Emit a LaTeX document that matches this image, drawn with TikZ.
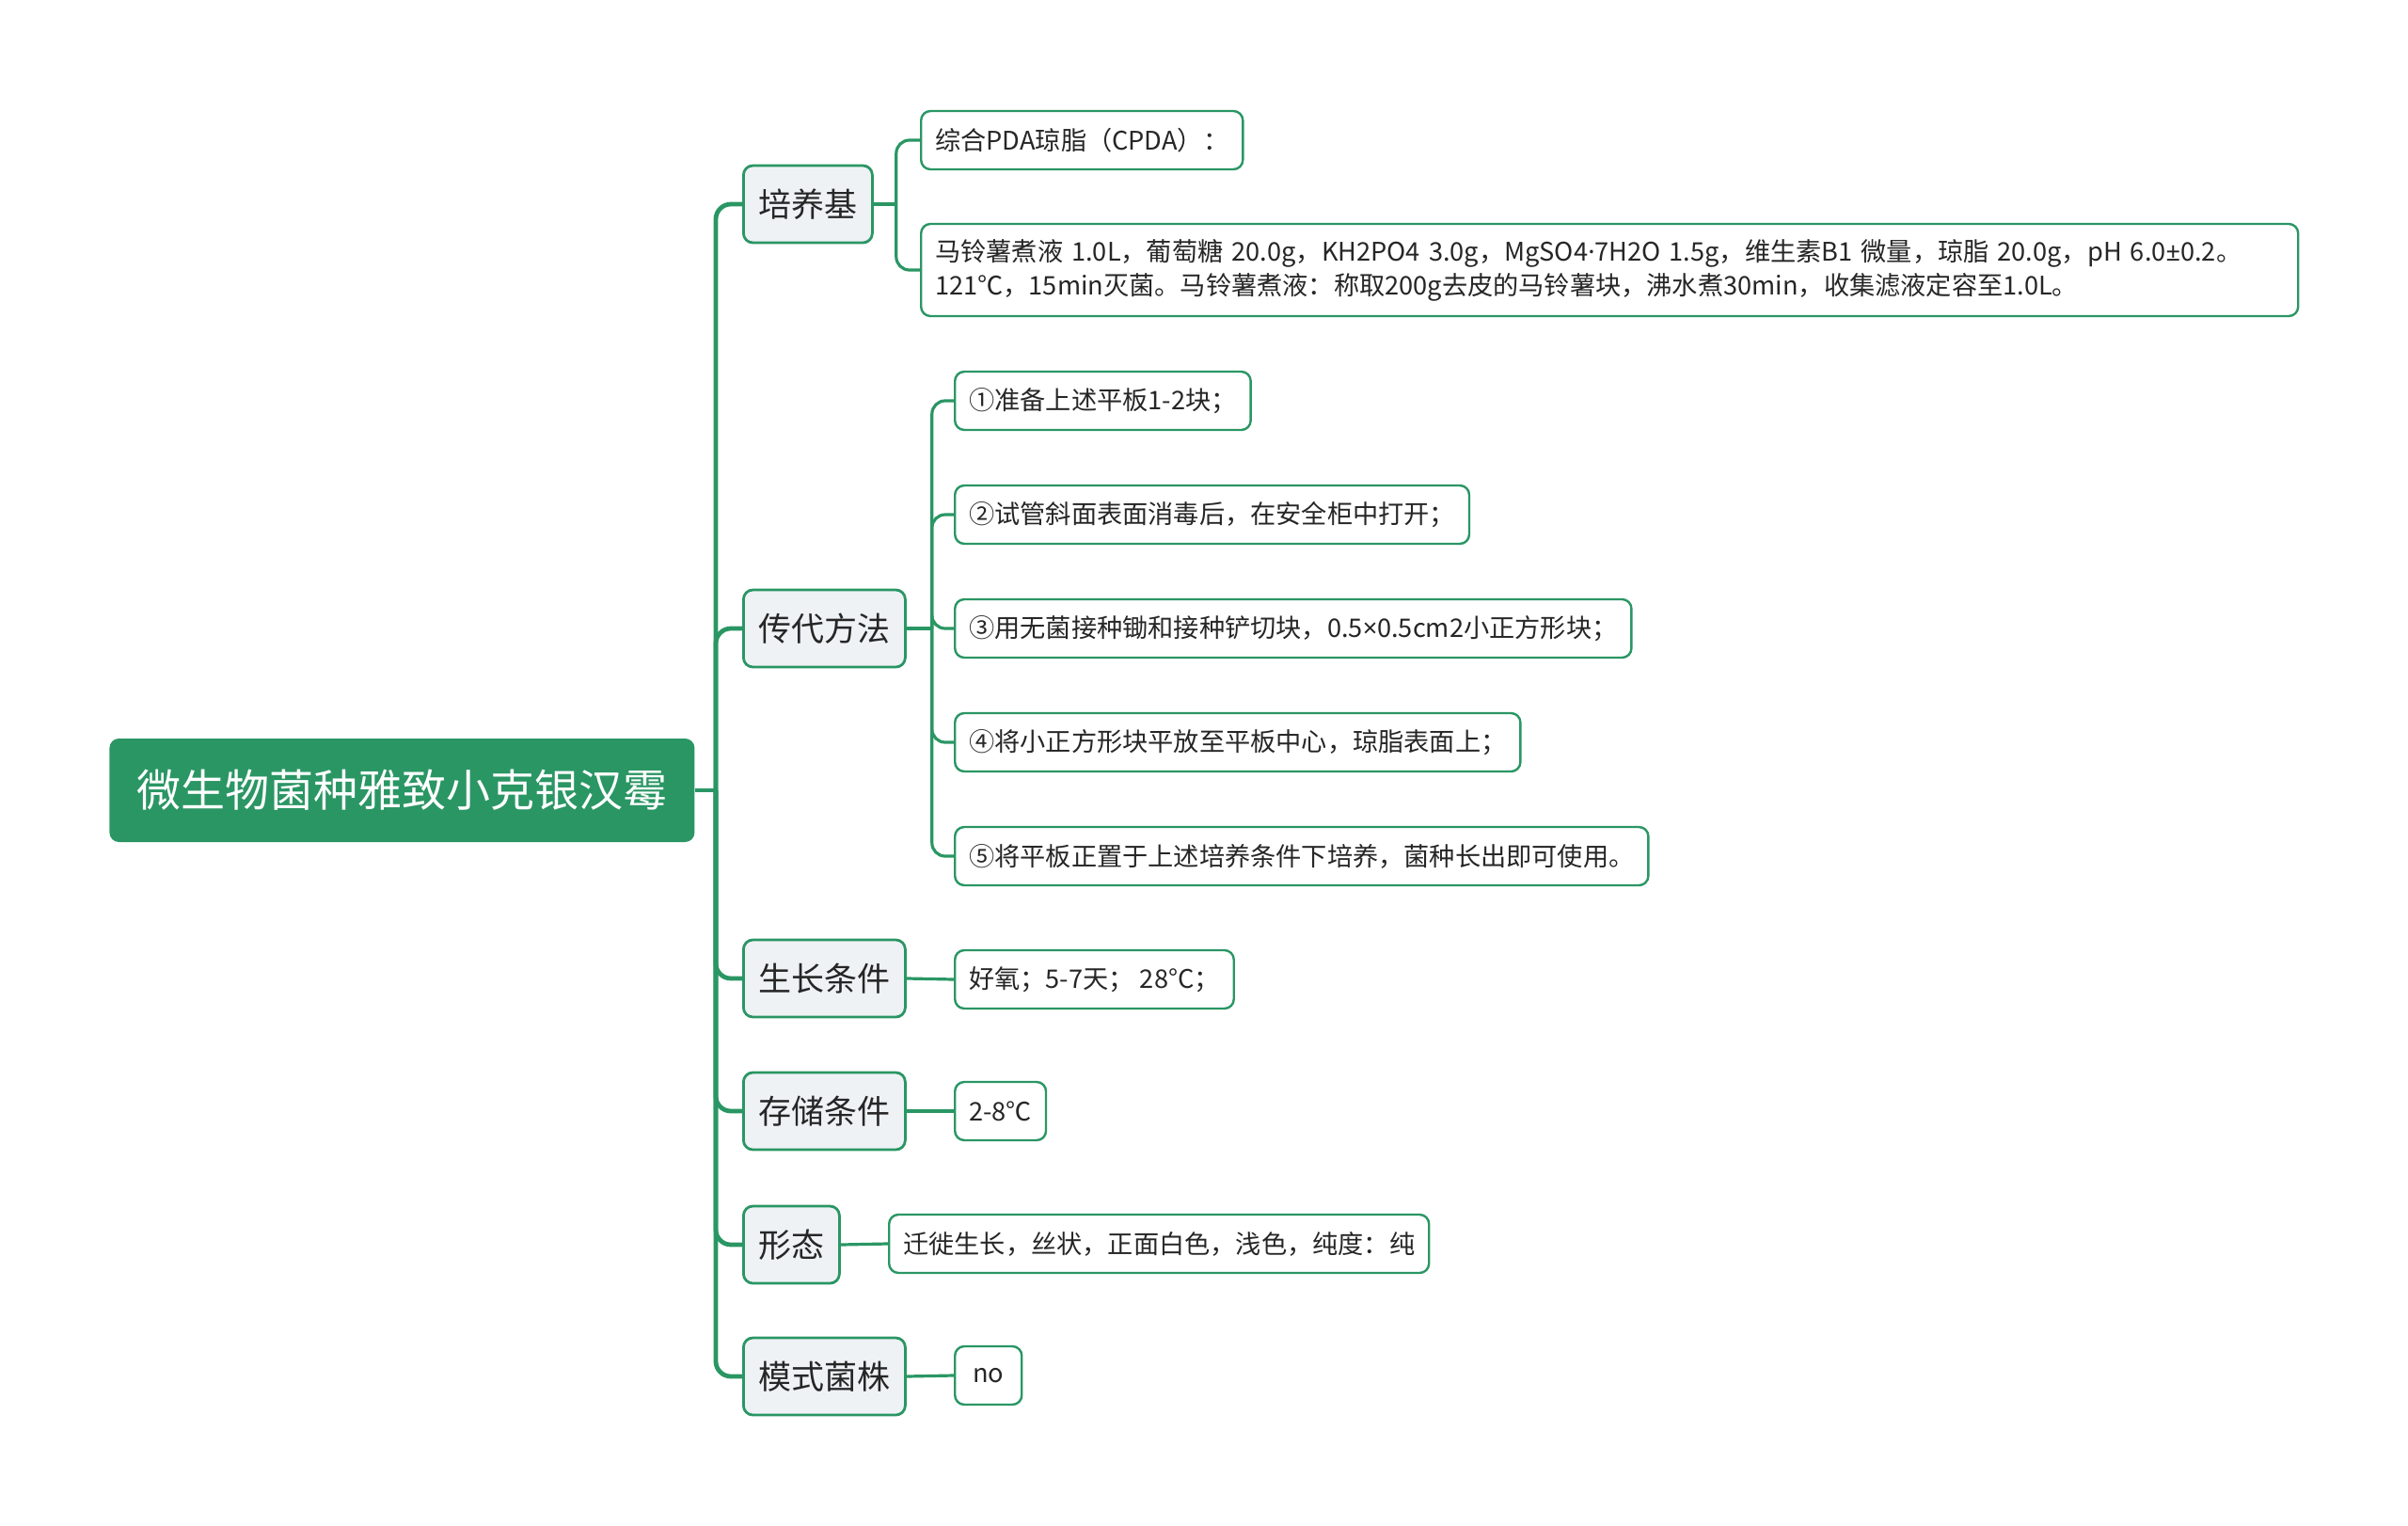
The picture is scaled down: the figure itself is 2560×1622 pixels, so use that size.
\documentclass[tikz,border=0pt]{standalone}
\usepackage{fontspec}
\setmainfont{Noto Sans CJK SC}
\newfontfamily\latinfont{Noto Sans}
\usepackage{tikz}
\usetikzlibrary{calc}
\definecolor{mgreen}{RGB}{42,150,100}
\definecolor{lgray}{RGB}{238,242,245}
\definecolor{tgray}{RGB}{38,38,38}
\tikzset{
	root/.style={anchor=west, fill=mgreen, text=white, rounded corners=5pt,
		inner xsep=14.5pt, minimum height=55pt,
		font=\fontsize{23.5pt}{28pt}\selectfont},
	topic/.style={anchor=west, fill=lgray, draw=mgreen, line width=1.4pt, text=tgray,
		rounded corners=5pt, inner xsep=8pt, minimum height=41pt,
		font=\fontsize{17.5pt}{21pt}\selectfont},
	leaf/.style={anchor=west, fill=white, draw=mgreen, line width=1.2pt, text=tgray,
		rounded corners=5pt, inner xsep=7.5pt, minimum height=31pt, align=left,
		font=\fontsize{13.6pt}{18pt}\selectfont},
	trunk/.style={draw=mgreen, line width=2.4pt, rounded corners=8pt},
	twig/.style={draw=mgreen, line width=1.6pt, rounded corners=7pt}
}

\begin{document}
\begin{tikzpicture}[x=0.5pt,y=-0.5pt]
	\useasboundingbox (0,0) rectangle (2560,1622);

	% Root
		\node[root] (root) at (116,840) {微生物菌种雅致小克银汉霉};

	% Main topics
		\node[topic] (med)  at (789,217)  {培养基};
		\node[topic] (sub)  at (789,668)  {传代方法};
		\node[topic] (grow) at (789,1040) {生长条件};
		\node[topic] (keep) at (789,1181) {存储条件};
		\node[topic] (form) at (789,1323) {形态};
		\node[topic] (type) at (789,1463) {模式菌株};

	% Details
		\node[leaf] (med1) at (978,149) {综合PDA琼脂（CPDA）：};
		\node[leaf, minimum height=49pt, text width=717pt] (med2) at (978,287)
			{马铃薯煮液 1.0L，葡萄糖 20.0g，KH2PO4 3.0g，MgSO4{\latinfont ·}7H2O 1.5g，维生素B1 微量，琼脂 20.0g，pH 6.0{\latinfont ±}0.2。\\
			121℃，15min灭菌。马铃薯煮液：称取200g去皮的马铃薯块，沸水煮30min，收集滤液定容至1.0L。};
		\node[leaf] (sub1) at (1014,426) {①准备上述平板1-2块；};
		\node[leaf] (sub2) at (1014,547) {②试管斜面表面消毒后，在安全柜中打开；};
		\node[leaf] (sub3) at (1014,668) {③用无菌接种锄和接种铲切块，0.5{\latinfont ×}0.5cm2小正方形块；};
		\node[leaf] (sub4) at (1014,789) {④将小正方形块平放至平板中心，琼脂表面上；};
		\node[leaf] (sub5) at (1014,910) {⑤将平板正置于上述培养条件下培养，菌种长出即可使用。};
		\node[leaf] (grow1) at (1014,1041) {好氧；5-7天； 28°C；};
		\node[leaf] (keep1) at (1014,1181) {2-8℃};
		\node[leaf] (form1) at (944,1322)  {迁徙生长，丝状，正面白色，浅色，纯度：纯};
		\node[leaf, inner xsep=9.5pt] (type1) at (1014,1462) {no};

	% Connectors
		\coordinate (j0) at (761,840);
		\draw[trunk] (root.east) -- (j0);
		\foreach \t in {med,sub,grow,keep,form,type} {
			\draw[trunk] (j0) |- (\t.west);
		}
		\coordinate (j1) at ($(med.east)+(24,0)$);
		\draw[twig] (med.east) -- (j1);
		\foreach \l in {med1,med2} {
			\draw[twig] (j1) |- (\l.west);
		}
		\coordinate (j2) at ($(sub.east)+(27,0)$);
		\draw[twig] (sub.east) -- (j2);
		\foreach \l in {sub1,sub2,sub3,sub4,sub5} {
			\draw[twig] (j2) |- (\l.west);
		}
		\draw[twig] (grow.east) -- (grow1.west);
		\draw[twig] (keep.east) -- (keep1.west);
		\draw[twig] (form.east) -- (form1.west);
		\draw[twig] (type.east) -- (type1.west);
\end{tikzpicture}
\end{document}
